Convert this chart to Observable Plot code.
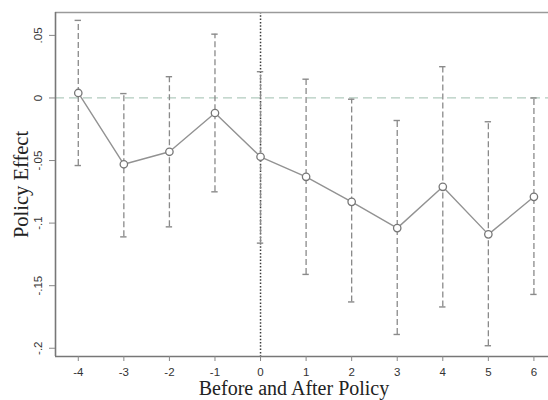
<!DOCTYPE html>
<html>
<head>
<meta charset="utf-8">
<script src="https://cdn.jsdelivr.net/npm/d3@7"></script>
<script src="https://cdn.jsdelivr.net/npm/@observablehq/plot@0.6"></script>
<style>
  html, body { margin: 0; padding: 0; background: #fff; }
  svg { display: block; }
</style>
</head>
<body>
<div id="chart"></div>
<script>
// Data
const periods = [-4, -3, -2, -1, 0, 1, 2, 3, 4, 5, 6];
const effects = [0.004, -0.053, -0.043, -0.012, -0.047, -0.063, -0.083, -0.104, -0.071, -0.109, -0.079];
const upper   = [0.062, 0.0035, 0.017, 0.051, 0.021, 0.015, -0.001, -0.018, 0.025, -0.019, 0.000];
const lower   = [-0.054, -0.111, -0.103, -0.075, -0.116, -0.141, -0.163, -0.189, -0.167, -0.198, -0.157];

const xTicks = [-4, -3, -2, -1, 0, 1, 2, 3, 4, 5, 6];
const yTicks = [0.05, 0, -0.05, -0.1, -0.15, -0.2];
const yTickLabels = [".05", "0", "-.05", "-.1", "-.15", "-.2"];
const xTitle = "Before and After Policy";
const yTitle = "Policy Effect";

const xDomain = [-4.5, 6.32];
const yDomain = [-0.2066, 0.0683];

const rows = periods.map((p, i) => ({x: p, y: effects[i], lo: lower[i], hi: upper[i]}));
const capHalf = 0.07;
const caps = rows.flatMap(d => [
  {x1: d.x - capHalf, x2: d.x + capHalf, y: d.hi},
  {x1: d.x - capHalf, x2: d.x + capHalf, y: d.lo}
]);
const yLabelRows = yTicks.map((v, i) => ({y: v, label: yTickLabels[i]}));

const gray = "#8a8a8a";
const serif = "Liberation Serif, Times New Roman, serif";

const chart = Plot.plot({
  width: 548,
  height: 400,
  marginLeft: 55,
  marginRight: 0,
  marginTop: 12,
  marginBottom: 44,
  style: {fontFamily: "Liberation Sans, Arial, sans-serif", background: "#fff"},
  x: {domain: xDomain},
  y: {domain: yDomain},
  marks: [
    // zero reference line
    Plot.ruleY([0], {stroke: "#b2cbbf", strokeWidth: 1.3, strokeDasharray: "9,5"}),
    // policy line
    Plot.ruleX([0], {stroke: "#3a3a3a", strokeWidth: 1.5, strokeDasharray: "1.5,1.8"}),
    // error bars
    Plot.ruleX(rows, {x: "x", y1: "lo", y2: "hi", stroke: gray, strokeWidth: 1.3, strokeDasharray: "6,3"}),
    Plot.ruleY(caps, {x1: "x1", x2: "x2", y: "y", stroke: gray, strokeWidth: 1.4}),
    // estimates
    Plot.line(rows, {x: "x", y: "y", stroke: "#929292", strokeWidth: 1.4}),
    Plot.dot(rows, {x: "x", y: "y", r: 3.7, stroke: "#777", fill: "white", strokeWidth: 1.3}),
    // frame lines (top, left, bottom)
    Plot.ruleY([yDomain[1]], {stroke: "#9a9a9a", strokeWidth: 1.6}),
    Plot.ruleY([yDomain[0]], {stroke: "#777", strokeWidth: 1.6}),
    Plot.ruleX([xDomain[0]], {stroke: "#777", strokeWidth: 1.6}),
    // axes
    Plot.axisX({ticks: xTicks, tickSize: 5, tickPadding: 6, fontSize: 11.5, stroke: "#888", fill: "#333", label: null, tickFormat: d => String(d)}),
    Plot.axisY({ticks: yTicks, tickSize: 6, stroke: "#888", label: null, tickFormat: () => ""}),
    Plot.text(yLabelRows, {x: xDomain[0], y: "y", text: "label", rotate: -90, dx: -17, textAnchor: "middle", lineAnchor: "middle", fontSize: 11.5, fill: "#333"}),
    // titles
    Plot.text([xTitle], {frameAnchor: "bottom", textAnchor: "middle", lineAnchor: "middle", dy: 32, dx: -8, fontFamily: serif, fontSize: 20, fill: "#222"}),
    Plot.text([yTitle], {frameAnchor: "left", textAnchor: "middle", lineAnchor: "middle", dx: -34, rotate: -90, fontFamily: serif, fontSize: 20.5, fill: "#222"})
  ]
});
document.getElementById("chart").append(chart);
</script>
</body>
</html>
